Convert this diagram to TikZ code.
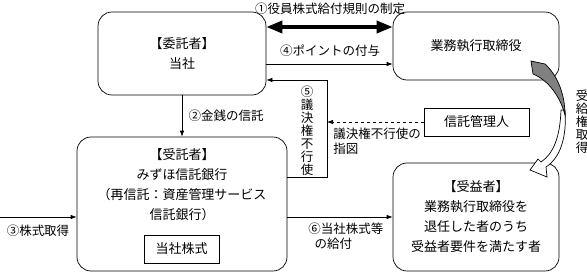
\documentclass[tikz,border=0pt]{standalone}
\usepackage{fontspec}
\setmainfont{Noto Sans CJK JP}
\usetikzlibrary{positioning, arrows.meta}

\begin{document}
\begin{tikzpicture}[x=1pt, y=-1pt, line width=0.7pt, font=\fontsize{13}{20}\selectfont,
    box/.style={draw, rounded corners=14pt, align=center, inner sep=0pt},
    plainbox/.style={draw, align=center, inner sep=0pt},
    annot/.style={font=\fontsize{12.5}{14.5}\selectfont, inner sep=0pt},
    vtext/.style={font=\fontsize{12.5}{13}\selectfont, align=center, inner sep=0pt},
    arr/.style={-{Latex[length=6pt,width=4.5pt]}}]

      \useasboundingbox (0,0) rectangle (587,273);

      % 1. Cajas principales
      \node[box, minimum width=168pt, minimum height=83pt] (itaku) at (182,53.5) {【委託者】\\当社};
      \node[box, minimum width=166pt, minimum height=68pt] (torishimari) at (476,46) {業務執行取締役};
      \node[box, minimum width=210pt, minimum height=134pt] (jutaku) at (182,204) {};
      \node[align=center, inner sep=0pt] (jutakutxt) at (182,185) {【受託者】\\みずほ信託銀行\\（再信託：資産管理サービス\\信託銀行）};
      \node[plainbox, minimum width=75pt, minimum height=28pt] (kabu) at (181.5,249) {当社株式};
      \node[plainbox, minimum width=105pt, minimum height=28pt] (kanri) at (476.5,122) {信託管理人};
      \node[box, minimum width=166pt, minimum height=108pt] (jueki) at (476,217) {【受益者】\\業務執行取締役を\\退任した者のうち\\受益者要件を満たす者};

      % 2. Puntos auxiliares
      \coordinate (kabusrc) at (0,217);
      \coordinate (giketsu1) at (327,177);
      \coordinate (giketsu2) at (327,80);

      % 3. Flechas
      % 1 - Reglamento
      \draw[line width=3.5pt, {Triangle[length=16pt,width=12pt]}-{Triangle[length=16pt,width=12pt]}]
        (itaku.east |- 0,27) -- (torishimari.west |- 0,27);
      \node[annot] (kitei) at (330,9) {①役員株式給付規則の制定};

      % 4 - Puntos
      \draw[arr] (itaku.east |- 0,64) -- (torishimari.west |- 0,64);
      \node[annot] (point) at (330,51) {④ポイントの付与};

      % 2 - Dinero
      \draw[arr] (itaku.south) -- (jutaku.north);
      \node[annot] (kinsen) at (226,116) {②金銭の信託};

      % 3 - Acciones
      \draw[arr] (kabusrc) -- (jutaku.west |- kabusrc);
      \node[annot] (shutoku) at (38,231) {③株式取得};

      % 5 - Voto
      \draw[arr] (jutaku.east |- giketsu1) -- (giketsu1) -- (giketsu2) -- (itaku.east |- giketsu2);
      \node[vtext] (fukoshi) at (307,131) {⑤\\議\\決\\権\\不\\行\\使};
      \draw[arr, dashed] (kanri.west) -- (giketsu1 |- kanri.west);
      \node[annot, anchor=north west, align=left] (sashizu) at (333,128) {議決権不行使の\\指図};

      % 6 - Entrega
      \draw[arr] (jutaku.east |- 0,217) -- (jueki.west |- 0,217);
      \node[annot, anchor=north west, align=left] (kyufu) at (308,223) {⑥当社株式等\\\hspace{0.5em}の給付};

      % 4. Flecha curva
      \draw[fill=white] (565,110) .. controls (567,138) and (560,158) .. (546,167)
        -- (547,177) -- (530,170) -- (538,159) -- (541,162)
        .. controls (553,154) and (560,138) .. (561,110) -- cycle;
      \draw[fill=gray] (531,61) -- (545,64) .. controls (558,76) and (565,95) .. (565,115)
        .. controls (560,96) and (548,80) .. (533,74) -- cycle;
      \node[vtext] (jukyu) at (582,122) {受\\給\\権\\取\\得};

\end{tikzpicture}
\end{document}
